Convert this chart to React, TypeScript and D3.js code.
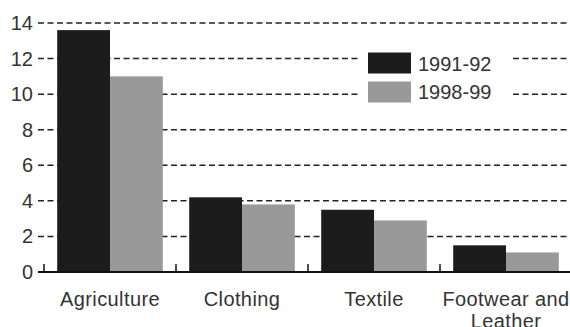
import React from "react";
import * as d3 from "d3";

const categories = ["Agriculture", "Clothing", "Textile", "Footwear and\nLeather"];
const seriesNames = ["1991-92", "1998-99"];
const values1991 = [13.6, 4.2, 3.5, 1.5];
const values1998 = [11.0, 3.8, 2.9, 1.1];
const yTicks = [0, 2, 4, 6, 8, 10, 12, 14];
const colors = ["#1c1c1c", "#999999"];

const W = 570;
const H = 327;
const FONT = "'Liberation Sans', Arial, sans-serif";

export default function App() {
  const x = d3.scaleBand<string>().domain(categories).range([44, 572]);
  const inner = d3
    .scaleBand<string>()
    .domain(seriesNames)
    .range([0, x.bandwidth()])
    .paddingOuter(0.25)
    .paddingInner(0);
  const y = d3.scaleLinear().domain([0, 14]).range([272, 23]);
  const series = [values1991, values1998];

  return (
    <svg
      width={W}
      height={H}
      style={{ position: "absolute", left: 0, top: 0, background: "#fff" }}
      fontFamily={FONT}
    >
      {/* dashed gridlines */}
      {yTicks
        .filter((t) => t > 0)
        .map((t) => (
          <line
            key={t}
            x1={38}
            x2={W}
            y1={y(t)}
            y2={y(t)}
            stroke="#222"
            strokeWidth={1.5}
            strokeDasharray="6,3.5"
          />
        ))}
      {/* y tick labels */}
      {yTicks.map((t) => (
        <text
          key={t}
          x={33}
          y={y(t)}
          dy="0.35em"
          textAnchor="end"
          fontSize={20}
          fill="#333"
        >
          {t}
        </text>
      ))}
      {/* bars */}
      {categories.map((c, i) =>
        seriesNames.map((s, j) => (
          <rect
            key={c + s}
            x={(x(c) ?? 0) + (inner(s) ?? 0)}
            y={y(series[j][i])}
            width={inner.bandwidth()}
            height={y(0) - y(series[j][i])}
            fill={colors[j]}
          />
        ))
      )}
      {/* baseline axis */}
      <line x1={38} x2={W} y1={y(0)} y2={y(0)} stroke="#111" strokeWidth={2} />
      {categories.map((c) => (
        <line
          key={"sep" + c}
          x1={x(c) ?? 0}
          x2={x(c) ?? 0}
          y1={y(0)}
          y2={y(0) - 8}
          stroke="#111"
          strokeWidth={1.5}
        />
      ))}
      {/* category labels */}
      {categories.map((c) => (
        <text
          key={"lab" + c}
          x={(x(c) ?? 0) + x.bandwidth() / 2}
          y={306}
          textAnchor="middle"
          fontSize={20}
          letterSpacing={0.4}
          fill="#333"
        >
          {c.split("\n").map((line, k) => (
            <tspan key={k} x={(x(c) ?? 0) + x.bandwidth() / 2} dy={k === 0 ? 0 : 22}>
              {line}
            </tspan>
          ))}
        </text>
      ))}
      {/* legend */}
      <rect x={360} y={42} width={152} height={68} fill="#fff" />
      {seriesNames.map((s, j) => (
        <g key={"leg" + s}>
          <rect x={368} y={52.5 + j * 29} width={43} height={21} fill={colors[j]} />
          <text x={418} y={70.5 + j * 28} fontSize={20} fill="#333">
            {s}
          </text>
        </g>
      ))}
    </svg>
  );
}
